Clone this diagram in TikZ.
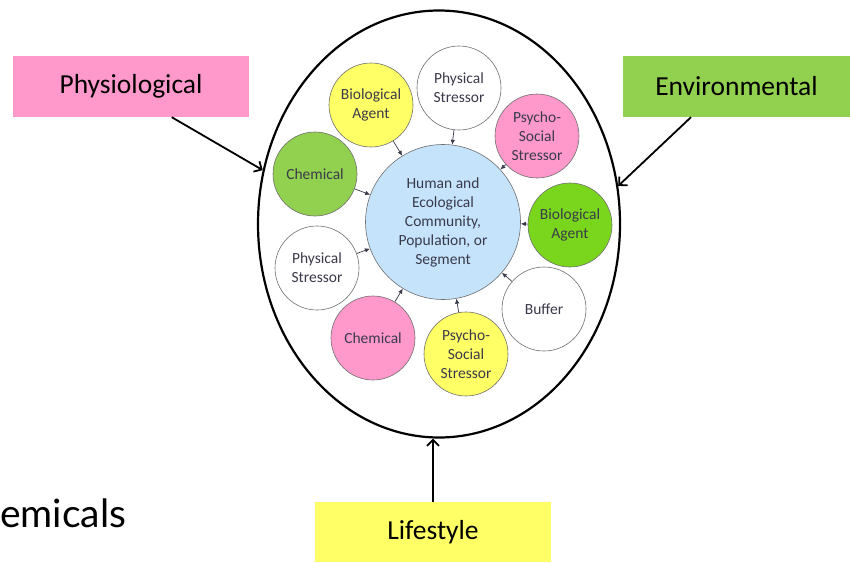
\documentclass[tikz,border=0pt]{standalone}
\usepackage{fontspec}
\setmainfont{Carlito}
\newfontfamily\slidefont{Lato}
\usetikzlibrary{arrows.meta,positioning,shapes.geometric}

\definecolor{boxpink}{RGB}{255,153,204}
\definecolor{boxgreen}{RGB}{146,208,80}
\definecolor{boxyellow}{RGB}{255,255,102}
\definecolor{limegreen}{RGB}{122,214,28}
\definecolor{corebl}{RGB}{197,227,251}
\definecolor{ringgray}{RGB}{110,110,110}
\definecolor{inktext}{RGB}{58,58,74}

\tikzset{
    factor/.style={rectangle, minimum width=236pt, minimum height=61pt, inner sep=0pt,
        font=\fontsize{27.5}{32}\selectfont},
    agent/.style={circle, draw=ringgray, line width=0.6pt, minimum size=84pt, inner sep=0pt,
        align=center, text=inktext, font=\fontsize{15.5}{19}\selectfont},
    bigarrow/.style={line width=1.8pt, -{Straight Barb[length=6pt,width=12pt]}},
    feed/.style={line width=0.7pt, draw=inktext, -{Latex[length=5pt,width=4.5pt]}}
}

\begin{document}
\begin{tikzpicture}[x=1pt,y=-1pt]
    \useasboundingbox (0,0) rectangle (850,562);

    % Outer field
    \node[ellipse, draw, line width=2.2pt, minimum width=362pt, minimum height=427pt, inner sep=0pt] (field) at (439,224) {};

    % Factor boxes
    \node[factor, fill=boxpink] (phys) at (131,86.5) {Physiological};
    \node[factor, fill=boxgreen, minimum width=227pt] (env) at (736.5,86.5) {Environmental};
    \node[factor, fill=boxyellow, minimum height=60pt] (life) at (433,532) {Lifestyle};

    % Cut-off slide text
    \node[anchor=base west, inner sep=0pt, font=\slidefont\fontsize{39}{44}\selectfont] (chemtext) at (0,527) {emicals};

    % Centre
    \node[agent, fill=corebl, minimum size=155pt] (core) at (443,222) {Human and\\Ecological\\Community,\\Population, or\\Segment};

    % Stressors round the centre
    \node[agent, fill=boxyellow] (bioa) at (371,105) {Biological\\Agent};
    \node[agent, fill=white] (physa) at (459,88) {Physical\\Stressor};
    \node[agent, fill=boxpink] (psya) at (537,136) {Psycho-\\Social\\Stressor};
    \node[agent, fill=boxgreen] (chema) at (315,174) {Chemical};
    \node[agent, fill=limegreen] (bioab) at (570,225) {Biological\\Agent};
    \node[agent, fill=white] (physb) at (317,268) {Physical\\Stressor};
    \node[agent, fill=boxpink] (chemb) at (373,338) {Chemical};
    \node[agent, fill=boxyellow] (psyb) at (466,354) {Psycho-\\Social\\Stressor};
    \node[agent, fill=white] (buffer) at (544,309) {Buffer};

    % Small arrows into the centre
    \foreach \s in {bioa,physa,psya,chema,bioab,physb,chemb,psyb,buffer}
        \draw[feed] (\s) -- (core);

    % Big arrows
    \draw[bigarrow] (phys.-37) -- (field.163);
    \draw[bigarrow] (env.214) -- (field.12);
    \draw[bigarrow] (life.north) -- (life.north |- field.south);

\end{tikzpicture}
\end{document}
